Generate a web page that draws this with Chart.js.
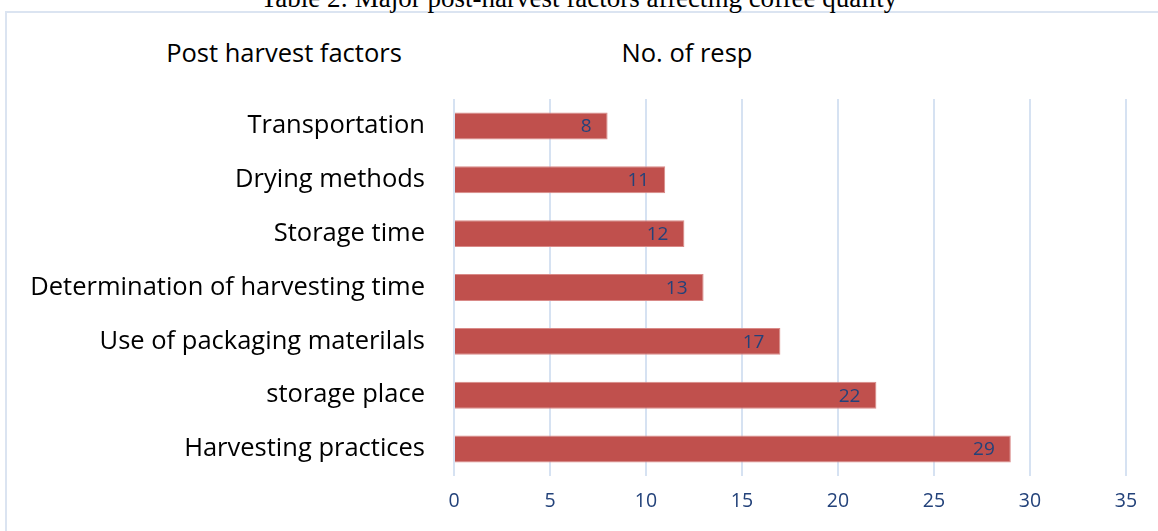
<!DOCTYPE html>
<html>
<head>
<meta charset="utf-8">
<script src="https://cdn.jsdelivr.net/npm/chart.js@4/dist/chart.umd.min.js"></script>
<style>
  html, body { margin: 0; padding: 0; background: #fff; }
  body { width: 1158px; height: 531px; position: relative; overflow: hidden; }
  .frame { position: absolute; left: 5px; top: 11px; width: 1160px; height: 540px;
           border: 2px solid #dbe4f1; box-sizing: border-box; }
  .title { position: absolute; top: -17px; left: 0; width: 1158px; text-align: center;
           font-family: "Liberation Serif", serif; font-size: 27px; color: #000; white-space: nowrap; }
  .head { position: absolute; top: 35px; font-family: "Open Sans", sans-serif; font-size: 25.5px; color: #000;
          transform: translateX(-50%); white-space: nowrap; }
  #wrap { position: absolute; left: 0; top: 0; width: 1158px; height: 531px; }
</style>
</head>
<body>
<div class="frame"></div>
<div class="title">Table 2: Major post-harvest factors affecting coffee quality</div>
<div class="head" style="left:284px">Post harvest factors</div>
<div class="head" style="left:687px">No. of resp</div>
<div id="wrap"><canvas id="c"></canvas></div>
<script>
const categories = ['Transportation', 'Drying methods', 'Storage time', 'Determination of harvesting time',
  'Use of packaging materilals', 'storage place', 'Harvesting practices'];
const responses = [8, 11, 12, 13, 17, 22, 29];
const xTicks = [0, 5, 10, 15, 20, 25, 30, 35];

const BAR = '#c0504d';
const LABEL = '#23427a';
const GRID = '#d6e2f2';

// value labels at the inside end of each bar
const barLabels = {
  id: 'barLabels',
  afterDatasetsDraw(chart) {
    const ctx = chart.ctx;
    const meta = chart.getDatasetMeta(0);
    ctx.save();
    ctx.font = '19px "Open Sans", sans-serif';
    ctx.fillStyle = LABEL;
    ctx.textAlign = 'right';
    ctx.textBaseline = 'middle';
    meta.data.forEach((bar, i) => {
      ctx.fillText(String(responses[i]), bar.x - 16, bar.y + 1);
    });
    ctx.restore();
  }
};

new Chart(document.getElementById('c'), {
  type: 'bar',
  data: {
    labels: categories,
    datasets: [{
      data: responses,
      backgroundColor: BAR,
      borderColor: '#d98a88',
      borderWidth: 1,
      categoryPercentage: 1,
      barPercentage: 0.5,
    }]
  },
  options: {
    indexAxis: 'y',
    responsive: true,
    maintainAspectRatio: false,
    animation: false,
    layout: { padding: { top: 99, right: 32, left: 0, bottom: 0 } },
    plugins: { legend: { display: false }, tooltip: { enabled: false } },
    scales: {
      x: {
        min: 0, max: 35,
        afterBuildTicks: (s) => { s.ticks = xTicks.map(v => ({ value: v })); },
        afterFit: (s) => { s.height = 55; },
        grid: { color: GRID, lineWidth: 2, drawTicks: false },
        border: { display: false },
        ticks: { color: LABEL, padding: 14, font: { family: 'Open Sans', size: 19.5 } },
      },
      y: {
        afterFit: (s) => { s.width = 454; },
        grid: { display: false },
        border: { display: false },
        ticks: { color: '#000', padding: 21, font: { family: 'Open Sans', size: 25.5 } },
      }
    }
  },
  plugins: [barLabels]
});
</script>
</body>
</html>
